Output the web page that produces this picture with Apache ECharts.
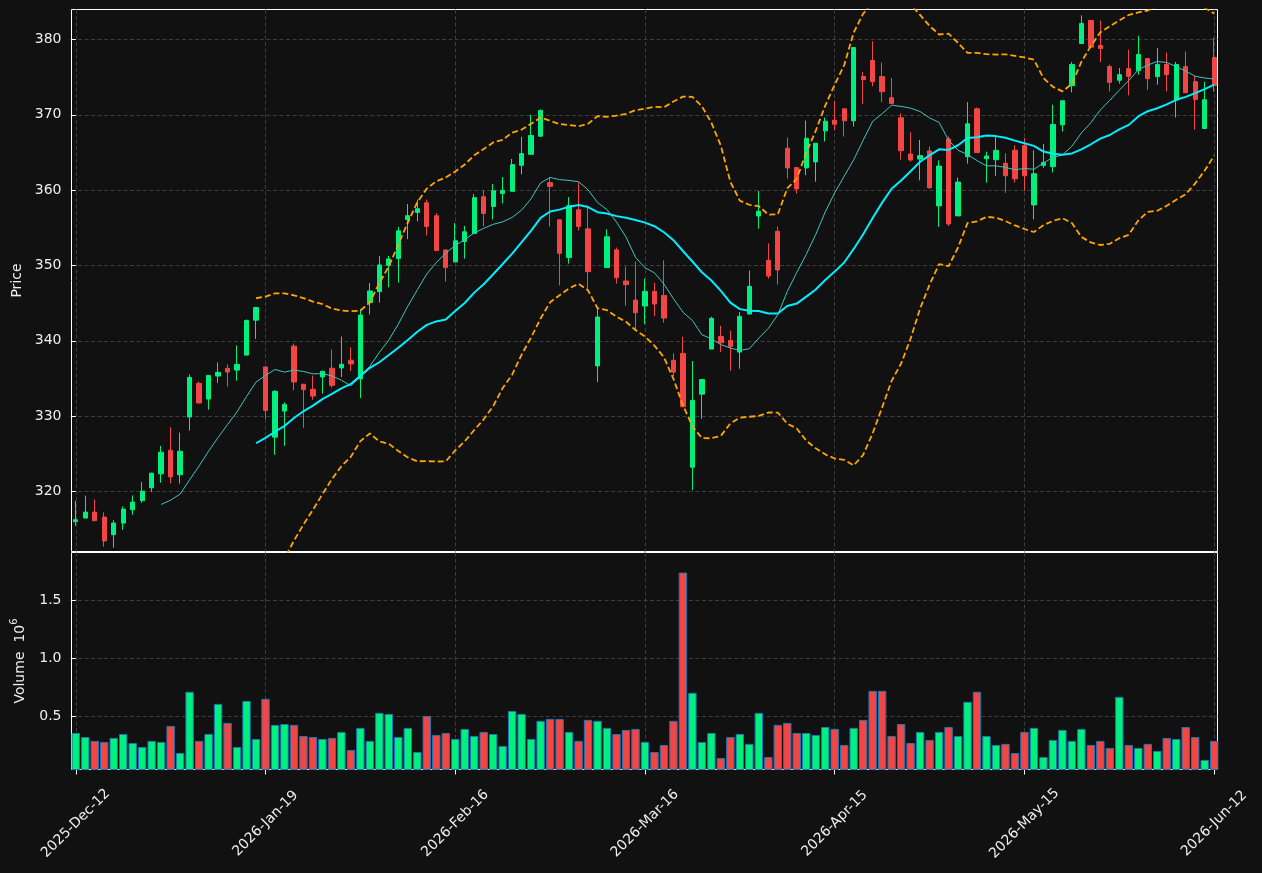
<!DOCTYPE html>
<html lang="en">
<head>
    <meta charset="UTF-8">
    <script src="https://cdn.jsdelivr.net/npm/echarts@6.0.0/dist/echarts.min.js"></script>
    <title>Price / Volume</title>
    <style>
        html, body { margin: 0; padding: 0; background: #111111; }
    </style>
</head>
<body>
    <div id="main" style="width: 1262px; height: 873px;"></div>
    <script>
        // ---- data ----
        var tickLabels = ['2025-Dec-12', '2026-Jan-19', '2026-Feb-16', '2026-Mar-16', '2026-Apr-15', '2026-May-15', '2026-Jun-12'];
        var tickIndex = [0, 20, 40, 60, 80, 100, 120];

        var opens = [
            315.98, 316.47, 317.26, 316.60, 314.26, 315.80, 317.57, 318.76, 320.49, 322.34,
            325.47, 322.21, 329.89, 334.35, 332.27, 335.32, 336.34, 336.11, 338.10, 342.74,
            336.53, 327.21, 330.67, 339.29, 334.23, 333.56, 335.20, 336.36, 336.40, 337.42,
            334.94, 345.06, 346.52, 350.03, 350.91, 356.11, 357.04, 358.33, 356.60, 352.07,
            350.47, 353.18, 354.24, 359.13, 357.84, 359.57, 359.84, 363.30, 364.76, 367.16,
            360.99, 356.06, 351.05, 357.39, 354.86, 336.67, 349.72, 352.07, 347.94, 345.41,
            344.61, 346.56, 346.03, 337.40, 338.33, 323.22, 332.92, 338.90, 340.58, 340.05,
            338.50, 343.55, 356.57, 350.68, 354.53, 365.56, 362.99, 362.95, 363.75, 367.87,
            369.28, 370.80, 369.20, 375.07, 377.20, 375.07, 372.27, 369.60, 364.80, 364.13,
            365.20, 357.91, 366.80, 356.58, 364.44, 370.80, 364.18, 364.04, 363.56, 365.29,
            365.91, 358.04, 363.29, 363.11, 368.67, 373.87, 379.47, 382.53, 379.20, 376.40,
            374.58, 376.13, 375.87, 377.47, 375.07, 376.67, 371.96, 376.40, 374.40, 368.18,
            377.60
        ];
        var closes = [
            316.25, 317.26, 316.11, 313.42, 315.80, 317.66, 318.59, 320.04, 322.43, 325.21,
            321.94, 325.34, 335.14, 331.74, 335.41, 335.81, 335.85, 336.87, 342.69, 344.42,
            330.76, 333.29, 331.56, 334.54, 333.52, 332.67, 335.96, 334.09, 336.89, 336.93,
            343.41, 346.61, 350.07, 350.87, 354.60, 356.60, 357.53, 355.18, 351.98, 349.72,
            353.27, 354.47, 359.00, 356.91, 359.92, 359.97, 363.39, 364.85, 367.25, 370.58,
            360.50, 351.62, 357.93, 355.18, 349.18, 343.15, 353.80, 348.38, 347.45, 343.72,
            346.56, 344.88, 343.02, 335.85, 331.24, 332.08, 334.87, 342.98, 339.74, 339.25,
            343.24, 347.23, 357.19, 348.60, 349.40, 362.95, 360.16, 366.89, 366.23, 369.15,
            368.75, 369.20, 378.93, 374.67, 374.40, 373.07, 371.51, 365.24, 364.00, 364.58,
            360.31, 363.20, 355.51, 361.07, 368.80, 364.98, 364.53, 365.29, 361.91, 361.51,
            361.91, 362.18, 363.69, 368.71, 371.87, 376.67, 382.13, 378.98, 378.80, 374.31,
            375.33, 375.11, 378.00, 374.80, 376.67, 375.33, 376.67, 372.93, 372.04, 372.00,
            373.90
        ];
        var lows = [
            315.45, 316.47, 316.11, 312.67, 312.54, 314.92, 316.91, 318.50, 319.96, 321.15,
            321.06, 321.06, 328.08, 331.74, 330.86, 334.44, 333.91, 334.70, 338.10, 340.26,
            329.65, 324.86, 326.06, 333.43, 328.46, 332.18, 332.98, 333.78, 335.20, 336.00,
            332.41, 343.50, 345.06, 347.10, 347.72, 353.49, 355.84, 353.98, 351.98, 347.85,
            350.47, 350.91, 354.24, 355.18, 356.11, 358.24, 359.84, 362.10, 364.76, 367.16,
            355.18, 347.36, 350.25, 354.64, 346.56, 334.54, 349.72, 347.59, 344.66, 341.42,
            342.22, 343.29, 342.40, 335.31, 331.24, 320.17, 329.65, 338.90, 338.50, 336.02,
            336.29, 343.55, 354.89, 348.25, 347.45, 361.53, 359.54, 361.98, 361.13, 366.45,
            367.95, 367.11, 368.44, 371.42, 373.78, 371.69, 371.51, 364.04, 363.78, 361.29,
            360.18, 355.11, 355.24, 356.58, 363.51, 364.98, 360.98, 361.91, 359.64, 361.02,
            359.91, 356.13, 362.93, 362.36, 367.78, 372.98, 379.47, 378.98, 377.02, 373.11,
            374.13, 372.58, 375.33, 373.33, 374.00, 373.11, 369.64, 372.93, 368.04, 368.18,
            373.07
        ];
        var highs = [
            318.76, 319.43, 318.94, 317.22, 316.20, 318.01, 319.47, 321.24, 322.47, 326.05,
            328.52, 327.81, 335.54, 334.61, 335.41, 337.13, 336.87, 339.38, 342.83, 344.50,
            336.60, 333.43, 331.83, 339.64, 334.23, 335.38, 335.96, 338.84, 340.57, 339.15,
            344.17, 347.67, 351.27, 351.27, 355.13, 358.15, 358.73, 358.73, 356.95, 352.07,
            355.62, 355.26, 359.48, 360.01, 360.81, 361.74, 364.14, 367.07, 370.00, 370.71,
            361.70, 356.06, 359.08, 361.03, 357.97, 344.30, 354.82, 352.38, 349.85, 350.51,
            348.25, 347.71, 350.68, 338.33, 340.54, 337.31, 334.87, 343.20, 342.00, 341.34,
            343.82, 349.31, 359.89, 352.94, 355.15, 366.98, 362.99, 369.24, 366.23, 369.64,
            371.85, 370.80, 379.00, 375.69, 379.78, 376.93, 374.89, 370.18, 367.69, 366.67,
            365.78, 363.96, 367.11, 361.69, 371.69, 370.98, 365.11, 367.11, 364.89, 365.96,
            366.93, 365.29, 366.13, 371.33, 371.87, 377.02, 383.20, 382.53, 382.53, 376.67,
            376.22, 378.62, 380.49, 377.47, 378.89, 378.27, 377.02, 378.40, 375.20, 374.40,
            380.25
        ];
        var volumes = [
            352000, 317000, 283000, 274000, 309000, 343000, 265000, 230000, 283000, 274000,
            413000, 178000, 709000, 283000, 343000, 604000, 439000, 230000, 630000, 300000,
            648000, 422000, 430000, 422000, 326000, 317000, 300000, 309000, 361000, 204000,
            396000, 283000, 526000, 517000, 317000, 396000, 187000, 500000, 335000, 352000,
            300000, 387000, 326000, 361000, 343000, 239000, 543000, 517000, 300000, 457000,
            474000, 474000, 361000, 283000, 465000, 457000, 396000, 343000, 378000, 387000,
            274000, 187000, 248000, 457000, 1743000, 700000, 274000, 352000, 135000, 317000,
            343000, 257000, 526000, 143000, 422000, 439000, 352000, 352000, 335000, 404000,
            387000, 248000, 396000, 465000, 717000, 717000, 326000, 430000, 265000, 361000,
            291000, 361000, 404000, 326000, 622000, 709000, 326000, 248000, 257000, 178000,
            361000, 396000, 143000, 291000, 378000, 283000, 387000, 248000, 283000, 222000,
            665000, 248000, 222000, 257000, 196000, 309000, 300000, 404000, 317000, 117000,
            283000
        ];
        var priceTicks = [320, 330, 340, 350, 360, 370, 380];
        var volumeTicks = [500000, 1000000, 1500000];

        // ---- indicators: 10 / 20 bar moving averages and 20 bar bands (2 sigma) of the closes ----
        function rolling(arr, n, fn) {
            var out = [];
            for (var i = n - 1; i < arr.length; i++) {
                out.push([i, fn(arr.slice(i - n + 1, i + 1))]);
            }
            return out;
        }
        function mean(a) {
            var s = 0;
            for (var k = 0; k < a.length; k++) s += a[k];
            return s / a.length;
        }
        function std(a) {
            var m = mean(a), s = 0;
            for (var k = 0; k < a.length; k++) s += (a[k] - m) * (a[k] - m);
            return Math.sqrt(s / a.length);
        }
        var ma10 = rolling(closes, 10, mean);
        var ma20 = rolling(closes, 20, mean);
        var bbUpper = rolling(closes, 20, function (a) { return mean(a) + 2 * std(a); });
        var bbLower = rolling(closes, 20, function (a) { return mean(a) - 2 * std(a); });

        var upColor = '#00f080';
        var downColor = '#f44545';

        var candles = [];
        var volBars = [];
        for (var i = 0; i < closes.length; i++) {
            candles.push([i, opens[i], closes[i], lows[i], highs[i]]);
            volBars.push({
                value: [i, volumes[i]],
                itemStyle: { color: closes[i] >= opens[i] ? upColor : downColor }
            });
        }

        var textColor = '#eeeeee';
        var font = 'DejaVu Sans';
        var gridLine = { show: true, lineStyle: { color: '#3d3d3d', width: 1, type: [4, 2.5] } };

        var myChart = echarts.init(document.getElementById('main'));
        var option = {
            backgroundColor: '#111111',
            animation: false,
            // half-pixel offsets keep the white frames crisp
            grid: [
                { left: 71.5, width: 1146, top: 9.5, height: 542, show: true, borderColor: '#ffffff', borderWidth: 1 },
                { left: 71.5, width: 1146, top: 552.5, height: 217, show: true, borderColor: '#ffffff', borderWidth: 1 }
            ],
            xAxis: [
                {
                    type: 'value', gridIndex: 0, min: -0.45, max: 120.35,
                    axisLine: { show: false },
                    axisTick: { show: false, customValues: tickIndex },
                    axisLabel: { show: false, customValues: tickIndex },
                    splitLine: gridLine
                },
                {
                    type: 'value', gridIndex: 1, min: -0.45, max: 120.35,
                    axisLine: { show: false },
                    axisTick: { show: true, length: 5, customValues: tickIndex, lineStyle: { color: '#ffffff' } },
                    axisLabel: {
                        customValues: tickIndex,
                        rotate: 45, align: 'center', verticalAlign: 'middle', margin: 54,
                        color: textColor, fontSize: 14, fontFamily: font, hideOverlap: false,
                        formatter: function (v) { return tickLabels[tickIndex.indexOf(Math.round(v))] || ''; }
                    },
                    splitLine: gridLine
                }
            ],
            yAxis: [
                {
                    type: 'value', gridIndex: 0, min: 312.03, max: 383.98,
                    name: 'Price', nameLocation: 'middle', nameGap: 46, nameRotate: 90,
                    nameTextStyle: { color: textColor, fontSize: 14, fontFamily: font },
                    axisLine: { show: false },
                    axisTick: { show: true, length: 5, customValues: priceTicks, lineStyle: { color: '#ffffff' } },
                    axisLabel: { customValues: priceTicks, margin: 10, color: textColor, fontSize: 14, fontFamily: font },
                    splitLine: gridLine
                },
                {
                    type: 'value', gridIndex: 1, min: 35000, max: 1917000,
                    name: '{a|Volume  10}{s|6}', nameLocation: 'middle', nameGap: 44, nameRotate: 90,
                    nameTextStyle: {
                        rich: {
                            a: { color: textColor, fontSize: 14, fontFamily: font, lineHeight: 18, verticalAlign: 'bottom' },
                            s: { color: textColor, fontSize: 10, fontFamily: font, lineHeight: 18, verticalAlign: 'top' }
                        }
                    },
                    axisLine: { show: false },
                    axisTick: { show: true, length: 5, customValues: volumeTicks, lineStyle: { color: '#ffffff' } },
                    axisLabel: {
                        customValues: volumeTicks, margin: 10, color: textColor, fontSize: 14, fontFamily: font,
                        formatter: function (v) { return (v / 1e6).toFixed(1); }
                    },
                    splitLine: gridLine
                }
            ],
            series: [
                {
                    name: 'OHLC', type: 'candlestick', xAxisIndex: 0, yAxisIndex: 0,
                    barWidth: 4.8,
                    encode: { x: 0, y: [1, 2, 3, 4] },
                    itemStyle: {
                        color: upColor, color0: downColor,
                        borderColor: upColor, borderColor0: downColor, borderWidth: 1
                    },
                    data: candles
                },
                {
                    name: 'MA10', type: 'line', xAxisIndex: 0, yAxisIndex: 0, showSymbol: false,
                    lineStyle: { color: '#3fc4c0', width: 1 }, data: ma10
                },
                {
                    name: 'MA20', type: 'line', xAxisIndex: 0, yAxisIndex: 0, showSymbol: false,
                    lineStyle: { color: '#00eeff', width: 2 }, data: ma20
                },
                {
                    name: 'BB upper', type: 'line', xAxisIndex: 0, yAxisIndex: 0, showSymbol: false,
                    lineStyle: { color: '#ffa500', width: 1.8, type: [6, 3] }, data: bbUpper
                },
                {
                    name: 'BB lower', type: 'line', xAxisIndex: 0, yAxisIndex: 0, showSymbol: false,
                    lineStyle: { color: '#ffa500', width: 1.8, type: [6, 3] }, data: bbLower
                },
                {
                    name: 'Volume', type: 'bar', xAxisIndex: 1, yAxisIndex: 1,
                    barWidth: 8.4,
                    itemStyle: { borderColor: '#1f77b4', borderWidth: 1 },
                    data: volBars
                }
            ]
        };
        myChart.setOption(option);
    </script>
</body>
</html>
